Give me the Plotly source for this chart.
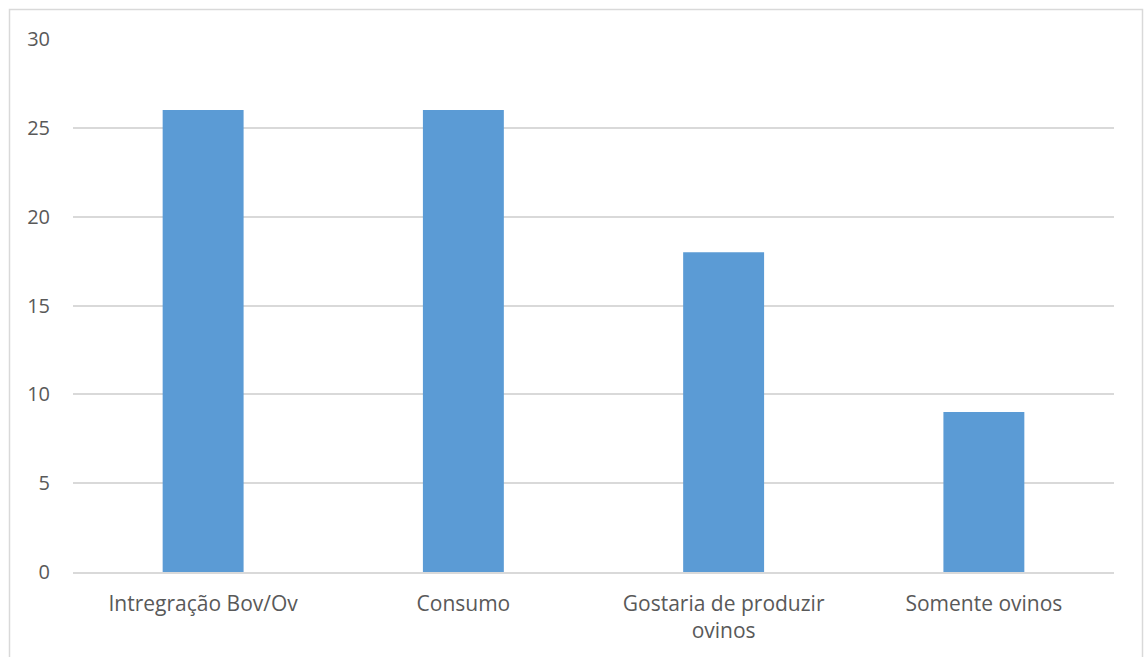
import plotly.graph_objects as go

categories = ["Intregração Bov/Ov", "Consumo", "Gostaria de produzir<br>ovinos", "Somente ovinos"]
values = [26, 26, 18, 9]
y_ticks = [0, 5, 10, 15, 20, 25, 30]

W, H = 1144, 657
L, R, T, B = 73, 1114, 39, 572
pw, ph = R - L, B - T

fig = go.Figure(go.Bar(x=categories, y=values, marker=dict(color="#5B9BD5", line=dict(width=0))))

fig.update_layout(
    width=W, height=H,
    margin=dict(l=L, r=W - R, t=T, b=H - B, pad=0),
    paper_bgcolor="white", plot_bgcolor="white",
    bargap=0.689,
    showlegend=False,
    font=dict(family="Open Sans", size=21, color="#595959"),
    shapes=[dict(type="rect", xref="paper", yref="paper",
                 x0=(9.5 - L) / pw, x1=(1142.5 - L) / pw,
                 y0=(B - 700) / ph, y1=(B - 9.5) / ph,
                 line=dict(color="#D9D9D9", width=1.5), fillcolor="rgba(0,0,0,0)", layer="below")],
)
fig.update_xaxes(showgrid=False, showline=True, linecolor="#D9D9D9", linewidth=1.5,
                 ticks="", ticklabelstandoff=12, tickfont=dict(size=21, color="#595959"))
fig.update_yaxes(range=[0, 30], tickvals=y_ticks, showgrid=True, gridcolor="#D9D9D9", gridwidth=1.5,
                 zeroline=False, showline=False, ticks="", ticklabelstandoff=22,
                 tickfont=dict(size=20, color="#595959"))

fig.write_html("out.html")
